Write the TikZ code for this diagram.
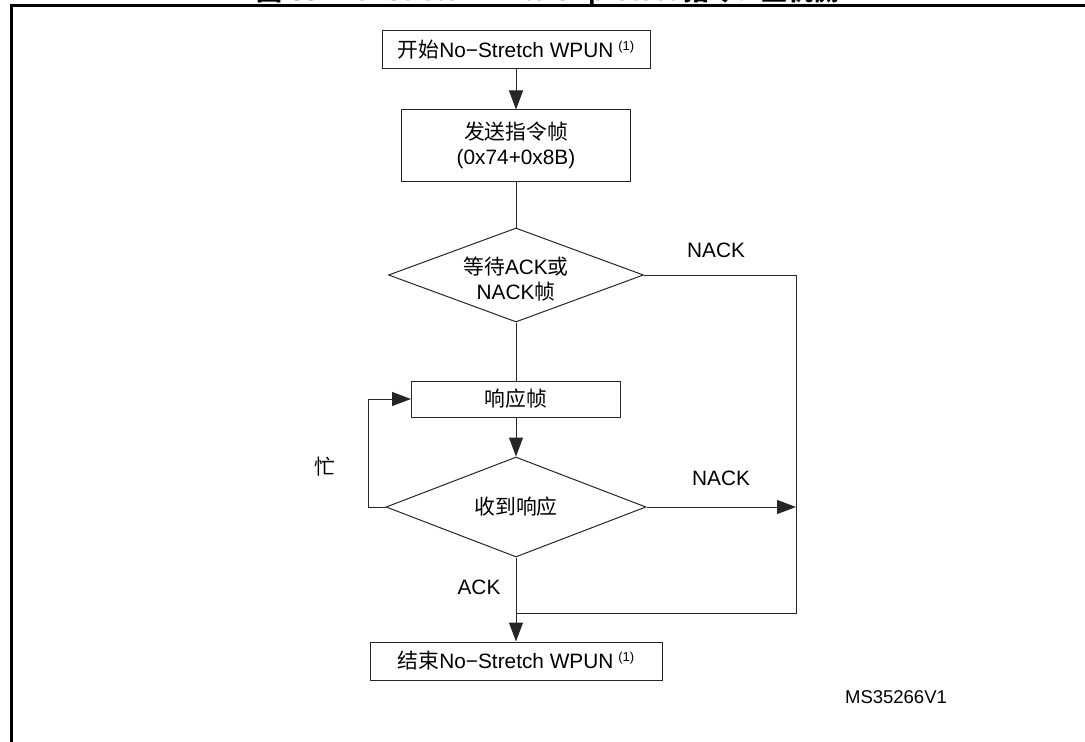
\documentclass[tikz,border=0pt]{standalone}
\usepackage{fontspec}
\setmainfont{Liberation Sans}
\newfontfamily\cjk{Noto Sans CJK SC}
\usetikzlibrary{arrows.meta,shapes.geometric}
\newcommand\noteone{\kern5bp\raisebox{7bp}{\fontsize{13bp}{13bp}\selectfont(1)}}
\begin{document}
\begin{tikzpicture}[x=1bp,y=-1bp,
  every node/.style={font=\fontsize{20.8bp}{25bp}\selectfont},
  box/.style={draw=black!85,line width=1bp,rectangle,inner sep=0pt,align=center},
  dia/.style={draw=black!85,line width=1bp,diamond,inner sep=0pt},
  conn/.style={draw=black!85,line width=1bp},
  arr/.style={conn,-{Triangle[length=19bp,width=14bp]}},
  lbl/.style={inner sep=0pt,align=center}
]
\useasboundingbox (0,0) rectangle (1085,742);
\begin{scope}
\clip (0,0) rectangle (1085,742);
\node[anchor=base,inner sep=0pt,font=\fontsize{26bp}{30bp}\selectfont\bfseries] (title) at (548,0.5) {{\cjk 图} 33. No−Stretch Write Unprotect {\cjk 指令：主机侧}};
\end{scope}
\draw[line width=3bp] (11,746) -- (11,6) -- (1090,6);

\node[box,minimum width=268bp,minimum height=38bp] (start) at (516,50) {{\cjk 开始}No−Stretch WPUN\noteone};
\node[box,minimum width=229bp,minimum height=71bp] (send) at (516,145.5) {{\cjk 发送指令帧}\\(0x74+0x8B)};
\node[dia,minimum width=255bp,minimum height=94bp] (d1) at (516,275) {};
\node[lbl] (d1t) at (516,279) {{\cjk 等待}ACK{\cjk 或}\\NACK{\cjk 帧}};
\node[box,minimum width=209bp,minimum height=36bp] (resp) at (516,399) {{\cjk 响应帧}};
\node[dia,minimum width=260bp,minimum height=100bp] (d2) at (516,507) {};
\node[lbl] (d2t) at (516,507) {{\cjk 收到响应}};
\node[box,minimum width=292bp,minimum height=38bp] (end) at (516,661) {{\cjk 结束}No−Stretch WPUN\noteone};

\coordinate (rx) at (796,275);
\coordinate (join) at (516,613);
\coordinate (bx) at (368,507);

\draw[arr] (start) -- (send);
\draw[conn] (send) -- (d1);
\draw[conn] (d1) -- (resp);
\draw[arr] (resp) -- (d2);
\draw[arr] (d2.south) -- (end);
\draw[arr] (d2.west) -- (bx) |- (resp.west);
\draw[conn] (d1.east) -- (d1.east -| rx) -- (rx |- join) -- (join);
\draw[arr] (d2.east) -- (d2.east -| rx);

\node[lbl] (nack1) at (716,250) {NACK};
\node[lbl] (nack2) at (721,478) {NACK};
\node[lbl] (ack) at (479,587) {ACK};
\node[lbl] (busy) at (325,467) {{\cjk 忙}};
\node[lbl,font=\fontsize{18.5bp}{20bp}\selectfont] (ms) at (896,697) {MS35266V1};
\end{tikzpicture}
\end{document}
